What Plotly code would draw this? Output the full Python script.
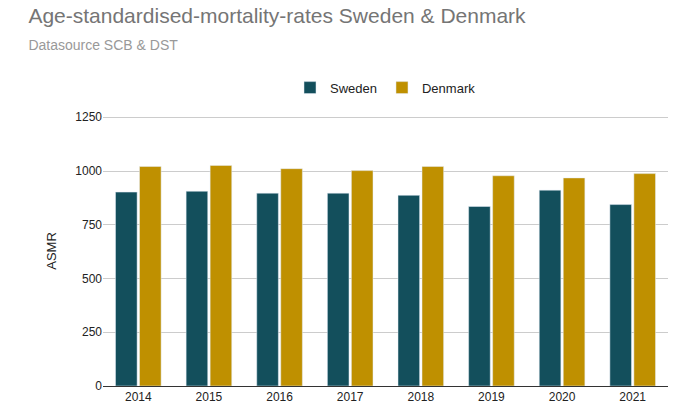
import plotly.graph_objects as go

years = ["2014", "2015", "2016", "2017", "2018", "2019", "2020", "2021"]
sweden = [902, 906, 897, 897, 887, 835, 911, 844]
denmark = [1021, 1026, 1011, 1002, 1021, 978, 968, 988]

fig = go.Figure()
fig.add_trace(go.Bar(x=years, y=sweden, name="Sweden", marker_color="#134F5C"))
fig.add_trace(go.Bar(x=years, y=denmark, name="Denmark", marker_color="#BF9000"))

fig.update_layout(
    width=680, height=420,
    font=dict(family="Arial, Liberation Sans", size=12, color="#222222"),
    title=dict(
        text="Age-standardised-mortality-rates Sweden & Denmark<br>"
             "<span style='font-size:14px;color:#999999'>Datasource SCB &amp; DST</span>",
        x=0.03, y=0.965, xanchor="left", yanchor="top",
        font=dict(size=21, color="#757575"),
    ),
    legend=dict(orientation="h", x=0.5, xanchor="center", y=1.105, yanchor="middle",
                font=dict(size=13)),
    margin=dict(l=95, r=20, t=108, b=42),
    plot_bgcolor="white", paper_bgcolor="white",
    bargap=0.32, bargroupgap=0.1,
)
fig.update_yaxes(range=[0, 1256], tickvals=[0, 250, 500, 750, 1000, 1250],
                 gridcolor="#cccccc", title=dict(text="ASMR", font=dict(size=13)),
                 zeroline=False)
fig.update_xaxes(showline=True, linecolor="#333333")

fig.write_html("out.html")
